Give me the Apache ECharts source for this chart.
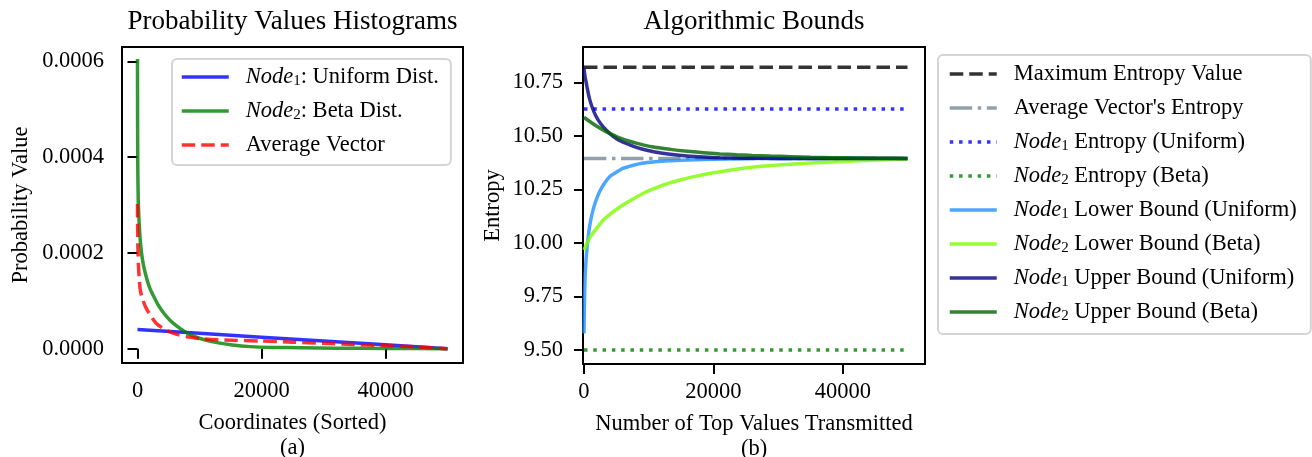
<!DOCTYPE html>
<html><head><meta charset="utf-8">
<script src="https://cdn.jsdelivr.net/npm/echarts@6/dist/echarts.min.js"></script>
<style>html,body{margin:0;padding:0;background:#fff}#c{width:1312px;height:457px}</style>
</head><body><div id="c"></div>
<script>
const FONT = '"Liberation Serif", "Times New Roman", serif';

// ---------- Panel (a): Probability Values Histograms ----------
const uniformX = [0, 10000, 20000, 30000, 40000, 50000];
const uniformY = [0.00004, 0.000032, 0.000024, 0.000016, 0.000008, 0];
const betaX = [0, 10, 30, 60, 120, 200, 323, 500, 710, 1000, 1516, 2000, 2580, 3300, 4190, 5200, 6350, 7600, 9030, 10800, 12800, 15300, 18180, 22000, 26240, 32000, 40000, 50000];
const betaY = [0.000605, 0.0005, 0.00042, 0.00036, 0.00031, 0.00028, 0.000249, 0.000218, 0.000194, 0.000172, 0.000145, 0.000126, 0.00011, 0.000092, 0.000075, 0.00006, 0.000047, 0.000036, 0.0000263, 0.0000185, 0.0000125, 0.0000075, 0.0000042, 0.0000026, 0.0000018, 0.000001, 0.0000005, 0];
const avgX = [0, 20, 60, 150, 300, 435, 700, 1240, 1800, 2320, 3000, 3930, 5000, 6350, 8000, 10110, 14000, 20000, 25000, 30000, 35000, 40000, 45000, 50000];
const avgY = [0.000302, 0.00026, 0.000215, 0.000175, 0.000142, 0.000124, 0.000108, 0.000089, 0.000075, 0.0000648, 0.000053, 0.0000439, 0.000036, 0.0000299, 0.000025, 0.0000209, 0.000018, 0.0000159, 0.0000135, 0.000011, 0.0000085, 0.0000062, 0.0000035, 0];
const aXTicks = [0, 20000, 40000];
const aYTicks = [0, 0.0002, 0.0004, 0.0006];

// ---------- Panel (b): Algorithmic Bounds ----------
const maxEntropy = 10.82;
const avgEntropy = 10.395;
const node1Entropy = 10.625;
const node2Entropy = 9.50;
const lineSpan = [0, 50000];
const lb1X = [0, 50, 100, 150, 200, 300, 450, 700, 1000, 1500, 2000, 2500, 3200, 4000, 5000, 6000, 7500, 9000, 11000, 13000, 16000, 18500, 22000, 27000, 35000, 50000];
const lb1Y = [9.578, 9.68, 9.76, 9.82, 9.86, 9.91, 9.97, 10.04, 10.10, 10.165, 10.21, 10.245, 10.28, 10.31, 10.33, 10.348, 10.362, 10.372, 10.379, 10.384, 10.388, 10.390, 10.392, 10.394, 10.395, 10.395];
const lb2X = [0, 500, 1000, 2000, 3000, 4300, 5600, 7000, 8200, 9700, 11300, 13000, 14900, 17000, 20000, 22500, 25000, 27500, 30000, 32500, 35000, 40000, 45000, 50000];
const lb2Y = [9.967, 10.0, 10.03, 10.07, 10.107, 10.14, 10.169, 10.195, 10.216, 10.24, 10.26, 10.278, 10.294, 10.31, 10.328, 10.34, 10.35, 10.358, 10.364, 10.369, 10.373, 10.381, 10.387, 10.392];
const ub1X = [0, 150, 300, 460, 800, 1240, 1800, 2530, 3500, 4590, 5800, 7160, 8800, 10770, 13000, 15900, 18500, 21000, 25000, 30000, 50000];
const ub1Y = [10.815, 10.78, 10.755, 10.73, 10.68, 10.636, 10.595, 10.559, 10.525, 10.496, 10.474, 10.457, 10.44, 10.426, 10.415, 10.406, 10.401, 10.398, 10.396, 10.395, 10.395];
const ub2X = [0, 1000, 2000, 3000, 4300, 5600, 6900, 8200, 10500, 13350, 16000, 18500, 21000, 23600, 26000, 28800, 32000, 35000, 38500, 42000, 46000, 50000];
const ub2Y = [10.587, 10.565, 10.545, 10.527, 10.507, 10.489, 10.476, 10.465, 10.449, 10.437, 10.428, 10.421, 10.416, 10.412, 10.409, 10.406, 10.403, 10.400, 10.398, 10.397, 10.396, 10.395];
const bXTicks = [0, 20000, 40000];
const bYTicks = [9.5, 9.75, 10.0, 10.25, 10.5, 10.75];

const labels = {
  n1u: '{i|Node}{s|1}: Uniform Dist.',
  n2b: '{i|Node}{s|2}: Beta Dist.',
  avg: 'Average Vector',
  maxE: 'Maximum Entropy Value',
  avgE: "Average Vector's Entropy",
  n1E: '{i|Node}{s|1} Entropy (Uniform)',
  n2E: '{i|Node}{s|2} Entropy (Beta)',
  lb1: '{i|Node}{s|1} Lower Bound (Uniform)',
  lb2: '{i|Node}{s|2} Lower Bound (Beta)',
  ub1: '{i|Node}{s|1} Upper Bound (Uniform)',
  ub2: '{i|Node}{s|2} Upper Bound (Beta)'
};

function pairs(xs, ys) { return xs.map((x, i) => [x, ys[i]]); }
function hline(v) { return lineSpan.map(x => [x, v]); }

const FS = 22.5;
const rich = {
  i: { fontFamily: FONT, fontStyle: 'italic', fontSize: FS, lineHeight: 24, color: '#000' },
  s: { fontFamily: FONT, fontSize: 15, lineHeight: 12, verticalAlign: 'bottom', color: '#000' }
};
const tickLabel = { fontFamily: FONT, fontSize: FS, color: '#000' };

function line(name, xi, data, color, width, type, extra) {
  return Object.assign({
    name, type: 'line', xAxisIndex: xi, yAxisIndex: xi, data,
    symbol: 'none', showSymbol: false, smooth: 0.25, silent: true,
    itemStyle: { color },
    lineStyle: { color, width, type: type || 'solid', opacity: 0.8, cap: 'butt' },
    emphasis: { disabled: true }
  }, extra || {});
}

function xAxisDef(gi, min, max, ticks, name, gap) {
  return {
    type: 'value', gridIndex: gi, min, max,
    axisLine: { show: false },
    axisTick: { show: true, inside: false, length: 10, customValues: ticks, lineStyle: { color: '#000', width: 2 } },
    axisLabel: { customValues: ticks, margin: 17, ...tickLabel, formatter: v => String(Math.round(v)) },
    splitLine: { show: false },
    name, nameLocation: 'middle', nameGap: gap,
    nameTextStyle: { fontFamily: FONT, fontSize: FS, color: '#000', lineHeight: 25 }
  };
}
function yAxisDef(gi, min, max, ticks, dec, name, gap, margin) {
  return {
    type: 'value', gridIndex: gi, min, max,
    axisLine: { show: false },
    axisTick: { show: true, inside: false, length: 10, customValues: ticks, lineStyle: { color: '#000', width: 2 } },
    axisLabel: { customValues: ticks, margin, ...tickLabel, formatter: v => v.toFixed(dec) },
    splitLine: { show: false },
    name, nameLocation: 'middle', nameGap: gap,
    nameTextStyle: { fontFamily: FONT, fontSize: FS, color: '#000' }
  };
}

const legendCommon = {
  orient: 'vertical', selectedMode: false,
  itemWidth: 47, itemHeight: 14, itemGap: 10,
  backgroundColor: 'rgba(255,255,255,0.8)',
  borderColor: '#d4d4d4', borderWidth: 2, borderRadius: 5,
  itemStyle: { opacity: 0, borderWidth: 0 },
  lineStyle: { width: 3.5 },
  textStyle: { fontFamily: FONT, fontSize: FS, color: '#000', lineHeight: 24, padding: [0, 0, 0, 12], rich },
  formatter: n => labels[n]
};

const gridCommon = { show: true, borderColor: '#000', borderWidth: 2, backgroundColor: 'transparent', containLabel: false, outerBoundsMode: 'none' };

const option = {
  animation: false,
  backgroundColor: '#fff',
  title: [
    { text: 'Probability Values Histograms', left: 292.5, top: 8, padding: 0, textAlign: 'center',
      textStyle: { fontFamily: FONT, fontSize: 27, fontWeight: 'normal', color: '#000' } },
    { text: 'Algorithmic Bounds', left: 754, top: 8, padding: 0, textAlign: 'center',
      textStyle: { fontFamily: FONT, fontSize: 27, fontWeight: 'normal', color: '#000' } }
  ],
  grid: [
    Object.assign({ left: 122, top: 47, width: 341, height: 316 }, gridCommon),
    Object.assign({ left: 583, top: 47, width: 342, height: 317 }, gridCommon)
  ],
  xAxis: [
    xAxisDef(0, -2500, 52500, aXTicks, 'Coordinates (Sorted)\n(a)', 48),
    xAxisDef(1, -150, 52700, bXTicks, 'Number of Top Values Transmitted\n(b)', 48)
  ],
  yAxis: [
    yAxisDef(0, -0.00003, 0.00063, aYTicks, 4, 'Probability Value', 89, 18),
    yAxisDef(1, 9.435, 10.915, bYTicks, 2, 'Entropy', 78, 20)
  ],
  legend: [
    Object.assign({}, legendCommon, { data: ['n1u', 'n2b', 'avg'], left: 172, top: 59, padding: [6, 12, 8, 8] }),
    Object.assign({}, legendCommon, { data: ['maxE', 'avgE', 'n1E', 'n2E', 'lb1', 'lb2', 'ub1', 'ub2'], left: 938, top: 55, padding: [7, 14, 10, 10] })
  ],
  series: [
    line('n1u', 0, pairs(uniformX, uniformY), '#0000ff', 3.5, 'solid', { smooth: false }),
    line('n2b', 0, pairs(betaX, betaY), '#008000', 3.5),
    line('avg', 0, pairs(avgX, avgY), '#ff0000', 3.5, [13.5, 6]),

    line('maxE', 1, hline(maxEntropy), '#000000', 3.5, [13.5, 6], { smooth: false }),
    line('avgE', 1, hline(avgEntropy), '#778899', 3.5, [22.4, 5.6, 3.5, 5.6], { smooth: false }),
    line('n1E', 1, hline(node1Entropy), '#0000ff', 3.5, [3.5, 5.8], { smooth: false }),
    line('n2E', 1, hline(node2Entropy), '#008000', 3.5, [3.5, 5.8], { smooth: false }),
    line('lb1', 1, pairs(lb1X, lb1Y), '#1e90ff', 3.5),
    line('lb2', 1, pairs(lb2X, lb2Y), '#7cfc00', 3.5),
    line('ub1', 1, pairs(ub1X, ub1Y), '#000080', 3.5),
    line('ub2', 1, pairs(ub2X, ub2Y), '#006400', 3.5)
  ]
};

const chart = echarts.init(document.getElementById('c'), null, { renderer: 'canvas' });
chart.setOption(option);
</script>
</body></html>
